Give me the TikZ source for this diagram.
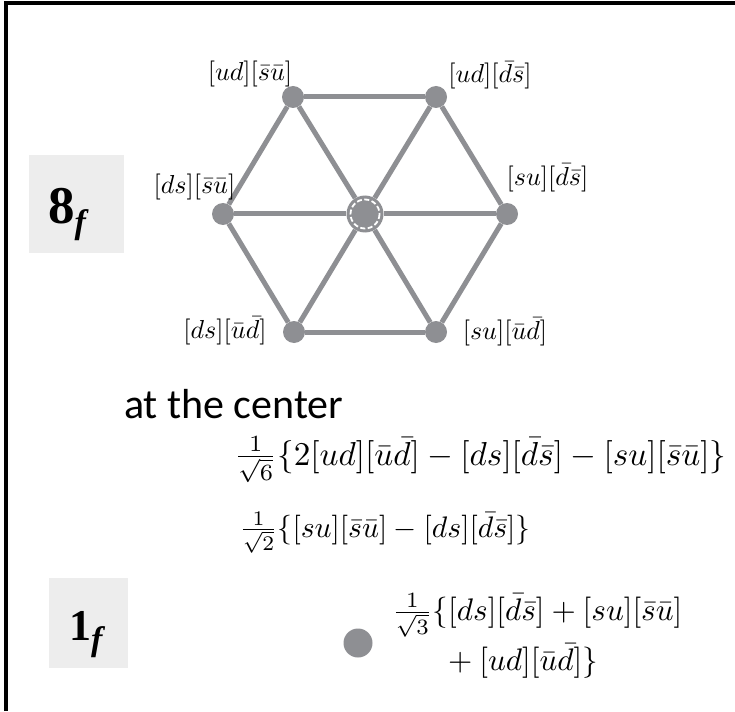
\documentclass[tikz,border=0pt]{standalone}
\usepackage{graphicx}
\usepackage{amsmath}
\usepackage{fontspec}
\newfontfamily\calibri{Carlito}
\newfontfamily\tnr{Liberation Serif}
\definecolor{hexgray}{RGB}{142,143,147}
\definecolor{boxgray}{RGB}{237,237,237}
\tikzset{
  vdot/.style={circle, fill=hexgray, minimum size=22pt, inner sep=0pt},
  hexline/.style={draw=hexgray, line width=5pt},
  lbl/.style={inner sep=0pt},
  formula/.style={inner sep=0pt, anchor=base west},
  repbox/.style={fill=boxgray, inner sep=0pt},
}
\newcommand{\repname}[3]{{\tnr\bfseries\fontsize{#3}{#3}\selectfont #1}{\tnr\bfseries\itshape\fontsize{34}{34}\selectfont\raisebox{-10pt}{#2}}}
\newcommand{\lab}[1]{\scalebox{2.6}{$#1$}}
\newcommand{\frm}[2]{\scalebox{#1}{$#2$}}
\begin{document}
\begin{tikzpicture}[x=1pt,y=-1pt]
\useasboundingbox (0,0) rectangle (735,711);
\fill[white] (0,0) rectangle (735,711);
% frame
\draw[line width=4pt] (6,711) -- (6,3.5) -- (735,3.5);
% hexagon vertices
\node[vdot] (tl) at (293,97) {};
\node[vdot] (tr) at (436,97) {};
\node[vdot] (l) at (223,214) {};
\node[vdot] (r) at (507,214) {};
\node[vdot] (bl) at (294,332) {};
\node[vdot] (br) at (436,332) {};
\node[circle, fill=hexgray, minimum size=37pt, inner sep=0pt] (c) at (365,214) {};
\draw[white, line width=1.8pt, dash pattern=on 5pt off 2.5pt] (c.center) circle (14.5);
% edges
\draw[hexline] (tl) -- (tr);
\draw[hexline] (tr) -- (r);
\draw[hexline] (r) -- (br);
\draw[hexline] (br) -- (bl);
\draw[hexline] (bl) -- (l);
\draw[hexline] (l) -- (tl);
\draw[hexline] (c) -- (l);
\draw[hexline] (c) -- (r);
\draw[hexline] (c) -- (tl);
\draw[hexline] (c) -- (tr);
\draw[hexline] (c) -- (bl);
\draw[hexline] (c) -- (br);
% vertex labels
\node[lbl, anchor=base] (ltl) at (250,80.5) {\lab{[ud][\bar s\bar u]}};
\node[lbl, anchor=base] (ltr) at (490,83) {\lab{[ud][\bar d\bar s]}};
\node[lbl, anchor=base] (ll) at (194.5,193.5) {\lab{[ds][\bar s\bar u]}};
\node[lbl, anchor=base] (lr) at (547.5,185.5) {\lab{[su][\bar d\bar s]}};
\node[lbl, anchor=base] (lbl1) at (225,338.5) {\lab{[ds][\bar u\bar d]}};
\node[lbl, anchor=base] (lbr) at (505,339) {\lab{[su][\bar u\bar d]}};
% representation boxes
\node[repbox, minimum width=95pt, minimum height=98pt] (b8) at (76.5,204) {};
\node[inner sep=0pt, anchor=base west] (t8) at (48,223) {\repname{8}{f}{53}};
\node[repbox, minimum width=79pt, minimum height=90pt] (b1) at (88.5,623) {};
\node[inner sep=0pt, anchor=base west] (t1) at (69,640) {\repname{1}{f}{44}};
% text
\node[inner sep=0pt, anchor=base west, font=\calibri\fontsize{42}{50}\selectfont] (atc) at (124,418) {at the center};
\node[formula] (f1) at (234,465) {\frm{3.32}{\tfrac{1}{\sqrt6}\{2[ud][\bar u\bar d]-[ds][\bar d\bar s]-[su][\bar s\bar u]\}}};
\node[formula] (f2) at (239,537) {\frm{2.97}{\tfrac{1}{\sqrt2}\{[su][\bar s\bar u]-[ds][\bar d\bar s]\}}};
\node[circle, fill=hexgray, minimum size=29pt, inner sep=0pt] (sd) at (358,643) {};
\node[formula] (f3a) at (392,620) {\frm{3.12}{\tfrac{1}{\sqrt3}\{[ds][\bar d\bar s]+[su][\bar s\bar u]}};
\node[formula] (f3b) at (392,670) {\frm{3.12}{\hphantom{\tfrac{1}{\sqrt3}\{}\mathord{+}\mskip\medmuskip[ud][\bar u\bar d]\}}};
\end{tikzpicture}
\end{document}
